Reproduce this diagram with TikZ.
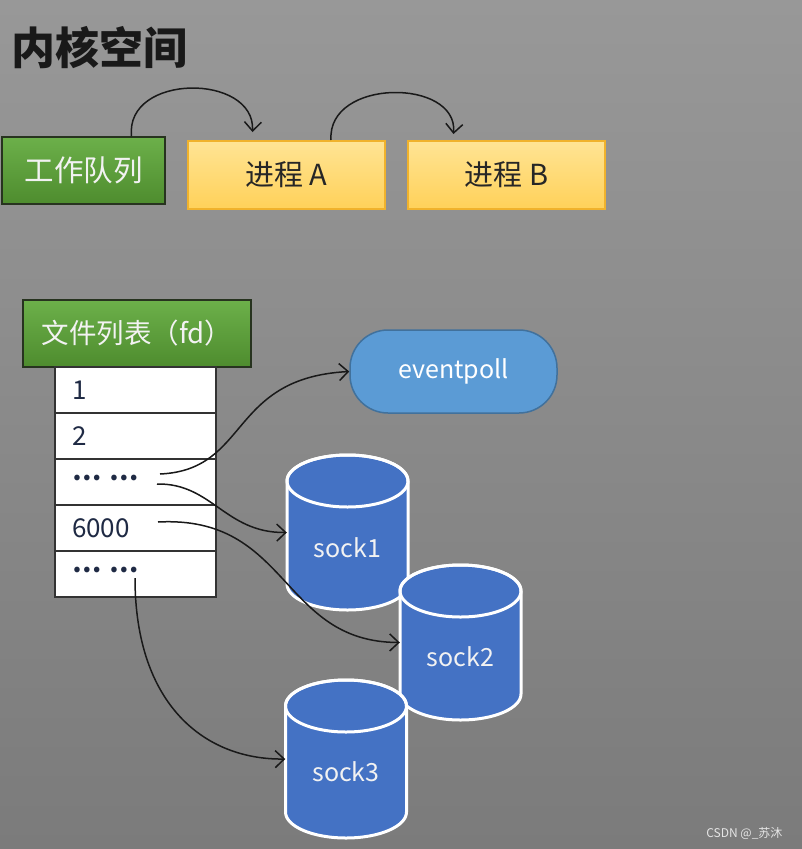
\documentclass[tikz,border=0pt]{standalone}
\usepackage{fontspec}
\setmainfont{Noto Sans CJK SC}
\usetikzlibrary{arrows.meta,calc}
\definecolor{bgtop}{HTML}{989898}
\definecolor{bgbot}{HTML}{7B7B7B}
\definecolor{gtop}{HTML}{6CB04A}
\definecolor{gbot}{HTML}{4E8C2E}
\definecolor{gedge}{HTML}{27331F}
\definecolor{ytop}{HTML}{FFE494}
\definecolor{ybot}{HTML}{FFD159}
\definecolor{yedge}{HTML}{F0B22C}
\definecolor{epfill}{HTML}{5B9BD5}
\definecolor{epedge}{HTML}{41719C}
\definecolor{cylblue}{HTML}{4472C4}
\definecolor{numtxt}{HTML}{1F2A44}
\tikzset{
  greenbox/.style={draw=gedge, line width=1.5pt, top color=gtop, bottom color=gbot, text=white!95!black, font=\fontsize{29.5}{33}\selectfont, inner sep=0pt},
  procbox/.style={draw=yedge, line width=2pt, top color=ytop, bottom color=ybot, text=black!85, font=\fontsize{29}{33}\selectfont, minimum width=197, minimum height=68, inner sep=0pt},
  rowbox/.style={draw=black!80, line width=1.5pt, fill=white, minimum width=161, minimum height=46, text width=127, inner xsep=17pt, align=left, text=numtxt, font=\fontsize{26}{30}\selectfont},
  epbox/.style={draw=epedge, line width=1.5pt, fill=epfill, rounded corners=38pt, minimum width=207, minimum height=83, text=white, font=\fontsize{25}{29}\selectfont},
  cylfill/.style={fill=cylblue, draw=white, line width=3pt},
  cylline/.style={draw=white, line width=3pt},
  socktxt/.style={text=white!95!black, font=\fontsize{25}{29}\selectfont},
  anchorbox/.style={minimum width=121, minimum height=155, inner sep=0pt},
  conn/.style={draw=black!90, line width=1.5pt, -{Straight Barb[length=9pt,width=17pt]}},
}
\newcommand\drawcyl[3]{%
  \path[cylfill] (#1-60.5,#2+26) -- (#1-60.5,#3-26) arc[start angle=180,end angle=0,x radius=60.5,y radius=26] -- (#1+60.5,#2+26) arc[start angle=0,end angle=-180,x radius=60.5,y radius=26] -- cycle;
  \draw[cylline] (#1,#2+26) ellipse[x radius=60.5,y radius=26];}
\newcommand\middots{\raisebox{0.3em}{\bfseries …\hspace{0.3em}…}}
\begin{document}
\begin{tikzpicture}[x=1pt,y={(0pt,-1pt)}]
\useasboundingbox (0,0) rectangle (802,849);
\shade[top color=bgtop, bottom color=bgbot] (0,0) rectangle (802,849);

\node[anchor=west, font=\fontsize{44}{48}\selectfont\bfseries, text=black!90, inner sep=0pt] (title) at (11,48) {内核空间};

\node[greenbox, minimum width=163, minimum height=67] (wq) at (83.5,170.5) {工作队列};
\node[procbox] (pa) at (286.5,175) {进程 A};
\node[procbox] (pb) at (506.5,175) {进程 B};

\node[greenbox, minimum width=228, minimum height=67, font=\fontsize{27.5}{31}\selectfont] (fd) at (137,333.5) {文件列表（fd）};
\node[rowbox] (r1) at (135.5,390) {1};
\node[rowbox] (r2) at (135.5,436) {2};
\node[rowbox] (r3) at (135.5,482) {\middots};
\node[rowbox] (r4) at (135.5,528) {6000};
\node[rowbox] (r5) at (135.5,574) {\middots};

\node[epbox] (ep) at (453.5,371.5) {eventpoll};

\drawcyl{347.5}{455}{610}
\node[anchorbox] (sock1) at (347.5,532.5) {};
\node[socktxt] (s1t) at (347.5,548) {sock1};
\drawcyl{460.5}{565}{720}
\node[anchorbox] (sock2) at (460.5,642.5) {};
\node[socktxt] (s2t) at (460.5,657) {sock2};
\drawcyl{346}{680}{838}
\node[anchorbox] (sock3) at (346,759) {};
\node[socktxt] (s3t) at (346,772) {sock3};

\coordinate (a0) at (160,474);
\coordinate (b0) at (157,484);
\coordinate (c0) at (158,522);
\coordinate (d0) at (135,578);

\draw[conn] ($(wq.north)+(48,0)$) .. controls (125,73) and (255,73) .. ($(pa.north)+(-34,-8)$);
\draw[conn] ($(pa.north)+(44.5,0)$) .. controls (327,78) and (458,78) .. ($(pb.north)+(-53,-6)$);

\draw[conn] (a0) .. controls (250,470) and (228,378) .. (ep.west);
\draw[conn] (b0) .. controls (212,483) and (225,533) .. (sock1.west);
\draw[conn] (c0) .. controls (290,515) and (280,642) .. (sock2.west);
\draw[conn] (d0) .. controls (135,705) and (205,760) .. (sock3.west);

\node[text=white!90!black, font=\fontsize{12}{14}\selectfont, anchor=east] (wm) at (786,833) {CSDN @\_苏沐};
\end{tikzpicture}
\end{document}
